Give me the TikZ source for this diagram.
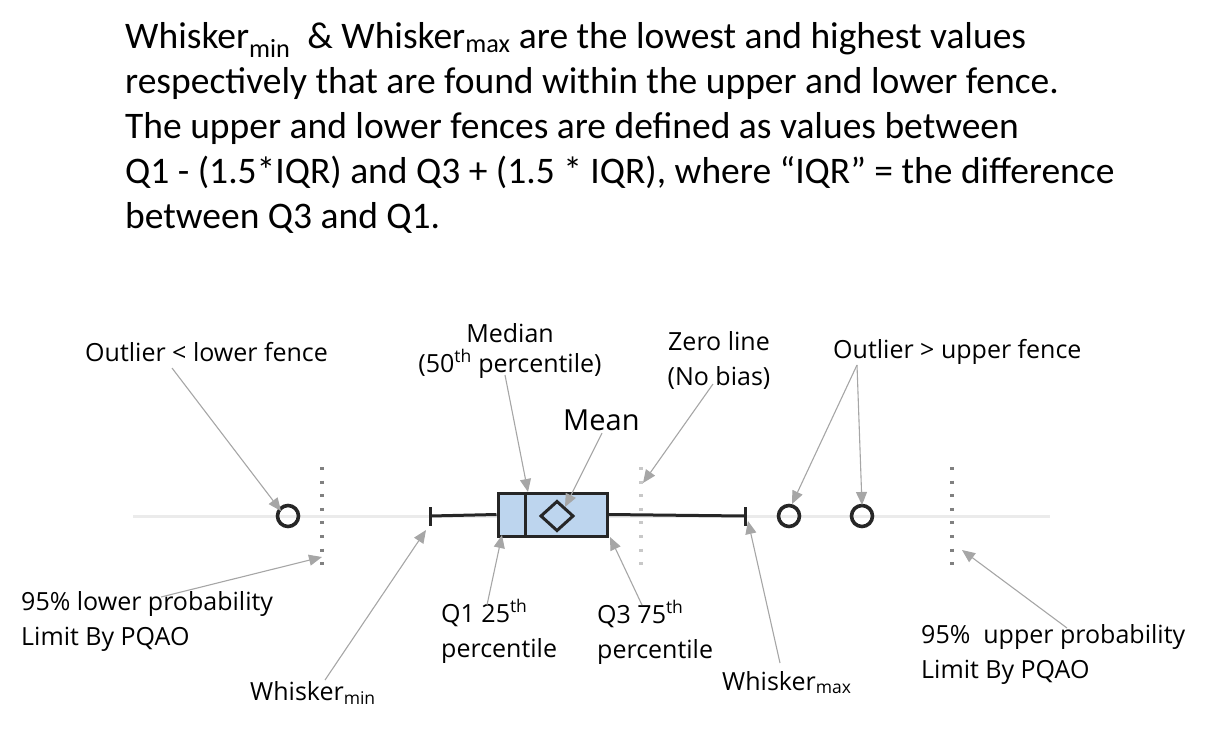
\documentclass[tikz,border=0pt]{standalone}
\usepackage{fontspec}
\setmainfont{Carlito}
\newfontfamily\lblfont{Open Sans}
\usetikzlibrary{arrows.meta}
\definecolor{ptrgray}{HTML}{A6A6A6}
\definecolor{fencegray}{HTML}{808080}
\definecolor{zerogray}{HTML}{C8C8C8}
\definecolor{axisgray}{HTML}{EBEBEB}
\definecolor{boxblue}{HTML}{BDD5EE}
\begin{document}
\begin{tikzpicture}[x=1pt,y=-1pt,
  lbl/.style={font=\lblfont\fontsize{25}{35}\selectfont, align=left, inner sep=0pt, anchor=base west},
  ptr/.style={draw=ptrgray, line width=1.1pt, -{Triangle[length=13pt,width=11pt]}},
  outlier/.style={circle, draw=black!85, line width=3.6pt, minimum size=21pt, inner sep=0pt},
  fencestyle/.style={line width=3.2pt, dash pattern=on 3pt off 10.6pt},
  whisk/.style={draw=black!85, line width=3pt}
]
\useasboundingbox (0,0) rectangle (1213,729);

% top explanation (anchor = baseline of the last line)
\node[font=\fontsize{37.5}{45}\selectfont, align=left, inner sep=0pt, anchor=base west] (expl) at (125,228)
 {Whisker\textsubscript{min}\ \ \& Whisker\textsubscript{max} are the lowest and highest values\\
  respectively that are found within the upper and lower fence.\\
  The upper and lower fences are defined as values between\\
  Q1 - (1.5*IQR) and Q3 + (1.5 * IQR), where “IQR” = the difference\\
  between Q3 and Q1.};

% axis line
\coordinate (axL) at (133,516);
\coordinate (axR) at (1050,516);
\draw[axisgray, line width=3pt] (axL) -- (axR);

% fences
\coordinate (lfT) at (322,467); \coordinate (lfB) at (322,565);
\coordinate (zlT) at (641,467); \coordinate (zlB) at (641,565);
\coordinate (ufT) at (952,467); \coordinate (ufB) at (952,565);
\draw[fencestyle, fencegray] (lfT) -- (lfB);
\draw[fencestyle, zerogray] (zlT) -- (zlB);
\draw[fencestyle, fencegray] (ufT) -- (ufB);

% whiskers
\coordinate (wminT) at (430,507); \coordinate (wminB) at (430,526); \coordinate (wmin) at (430,516);
\coordinate (wmaxT) at (745,507); \coordinate (wmaxB) at (745,526); \coordinate (wmax) at (745,516);
\node[draw=black!85, fill=boxblue, line width=3pt, minimum width=109pt, minimum height=43pt, inner sep=0pt] (box) at (552.5,514.5) {};
\draw[whisk] (wmin) -- (box.west);
\draw[whisk] (box.east) -- (wmax);
\draw[whisk] (wminT) -- (wminB);
\draw[whisk] (wmaxT) -- (wmaxB);
\draw[whisk] (box.north west) ++(29,0) coordinate (medT) -- (medT |- box.south) coordinate (medB);
\coordinate (mn) at (557,516);
\draw[whisk, line join=miter] ([xshift=-16pt]mn) -- ([yshift=-14.5pt]mn) -- ([xshift=16pt]mn) -- ([yshift=14.5pt]mn) -- cycle;

% outliers
\node[outlier] (o1) at (288,516) {};
\node[outlier] (o2) at (789,516) {};
\node[outlier] (o3) at (862,516) {};

% labels (multi-line: anchor = baseline of the last line)
\node[lbl] (lOutLo) at (85,361) {Outlier < lower fence};
\node[lbl, align=center, anchor=base, font=\lblfont\fontsize{25}{30}\selectfont] (lMed) at (510,372) {Median\\(50\textsuperscript{th} percentile)};
\node[lbl, align=center, anchor=base] (lZero) at (719,385) {Zero line\\(No bias)};
\node[lbl, font=\lblfont\fontsize{29}{35}\selectfont] (lMean) at (563,430) {Mean};
\node[lbl] (lOutHi) at (833,358) {Outlier > upper fence};
\node[lbl] (lLo95) at (21,645) {95\% lower probability\\Limit By PQAO};
\node[lbl] (lWmin) at (250,700) {Whisker\textsubscript{min}};
\node[lbl] (lQ1) at (441,657) {Q1 25\textsuperscript{th}\\percentile};
\node[lbl] (lQ3) at (597,658) {Q3 75\textsuperscript{th}\\percentile};
\node[lbl] (lWmax) at (722,690) {Whisker\textsubscript{max}};
\node[lbl] (lHi95) at (921,678) {95\%\ \ upper probability\\Limit By PQAO};

% pointer start points
\coordinate (sOutLo) at (172,368);
\coordinate (sLo95) at (161,597);
\coordinate (sWmin) at (325,680);
\coordinate (sMed) at (505,375);
\coordinate (sMean) at (602,433);
\coordinate (sZero) at (713,384);
\coordinate (sQ1) at (487,605);
\coordinate (sQ3) at (642,605);
\coordinate (sWmax) at (780,663);
\coordinate (sOutHi) at (857,365);
\coordinate (sHi95) at (1067,628);
% pointer tips
\coordinate (tOutLo) at (281,511);
\coordinate (tLo95) at (322,557);
\coordinate (tWmin) at (426,530);
\coordinate (tMed) at (528,492);
\coordinate (tMean) at (565,507);
\coordinate (tZero) at (643,483);
\coordinate (tQ1) at (502,535);
\coordinate (tQ3) at (610,537);
\coordinate (tWmax) at (748,521);
\coordinate (tO2) at (792,504);
\coordinate (tO3) at (862,505);
\coordinate (tHi95) at (962,550);

\draw[ptr] (sOutLo) -- (tOutLo);
\draw[ptr] (sLo95) -- (tLo95);
\draw[ptr] (sWmin) -- (tWmin);
\draw[ptr] (sMed) -- (tMed);
\draw[ptr] (sMean) -- (tMean);
\draw[ptr] (sZero) -- (tZero);
\draw[ptr] (sQ1) -- (tQ1);
\draw[ptr] (sQ3) -- (tQ3);
\draw[ptr] (sWmax) -- (tWmax);
\draw[ptr] (sOutHi) -- (tO2);
\draw[ptr] (sOutHi) -- (tO3);
\draw[ptr] (sHi95) -- (tHi95);
\end{tikzpicture}
\end{document}
